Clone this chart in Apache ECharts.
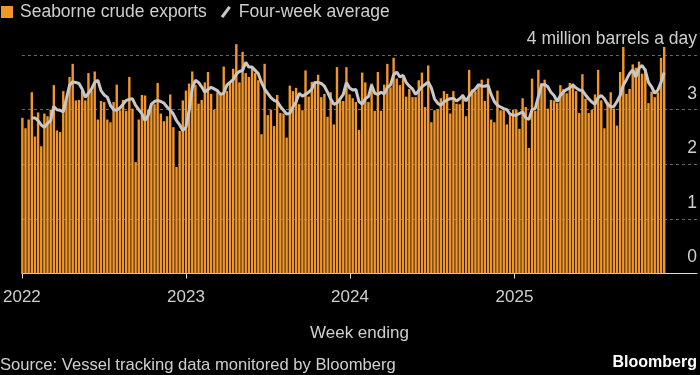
<!DOCTYPE html>
<html>
<head>
<meta charset="utf-8">
<script src="https://cdn.jsdelivr.net/npm/echarts@6/dist/echarts.min.js"></script>
<style>
  html, body { margin: 0; padding: 0; background: #000; }
  #chart { width: 700px; height: 375px; }
</style>
</head>
<body>
<div id="chart"></div>
<script>
// weekly seaborne crude exports, million barrels a day (week ending Sundays)
const firstWeek = '2022-01-02'
const exports2022 = [2.85, 2.66, 2.82, 3.32, 2.51, 2.95, 2.33, 2.93, 2.88, 3.0, 3.45, 2.62, 2.59, 3.34, 3.18, 3.6, 3.84, 3.17, 3.18, 3.35, 3.17, 3.67, 3.35, 3.7, 2.82, 3.16, 3.14, 2.82, 2.77, 3.14, 3.46, 2.99, 3.18, 2.98, 3.6, 3.02, 2.04, 2.82, 3.27, 3.26, 3.0, 3.08, 3.1, 3.49, 2.93, 2.79, 2.88, 3.28, 2.68, 1.95, 2.61, 3.17]
const exports2023 = [3.35, 3.48, 3.7, 3.45, 3.11, 3.18, 3.5, 3.69, 3.29, 3.0, 3.32, 3.28, 3.79, 3.34, 3.48, 3.75, 4.2, 3.5, 4.06, 3.67, 3.6, 3.78, 3.67, 3.54, 2.55, 3.84, 2.9, 3.0, 2.7, 3.27, 2.94, 2.93, 2.49, 3.44, 3.34, 3.4, 3.1, 2.99, 3.72, 3.24, 3.51, 3.52, 3.64, 3.23, 3.29, 2.87, 3.32, 2.73, 3.78, 3.17, 3.16, 3.78, 3.28]
const exports2024 = [3.21, 3.14, 2.63, 3.68, 3.5, 3.14, 3.48, 2.98, 3.69, 2.98, 3.46, 3.84, 3.41, 3.95, 3.57, 3.45, 3.58, 3.24, 3.38, 3.23, 3.23, 3.54, 3.68, 3.05, 3.81, 2.77, 2.99, 3.01, 3.21, 3.34, 3.29, 2.93, 3.34, 3.11, 3.1, 3.28, 2.88, 3.73, 3.37, 3.34, 3.45, 3.55, 3.16, 3.57, 2.82, 2.77, 3.35, 2.99, 2.99, 2.73, 2.9, 3.0]
const exports2025 = [3.0, 2.65, 3.21, 3.05, 2.3, 3.57, 2.98, 3.73, 3.49, 3.55, 3.02, 3.18, 3.17, 3.12, 3.45, 3.38, 3.3, 3.49, 3.48, 3.34, 2.94, 3.65, 3.2, 2.94, 3.0, 3.28, 3.73, 3.17, 2.66, 3.14, 3.32, 3.02, 2.71, 3.69, 4.15, 3.29, 3.38, 3.83, 3.77, 3.88, 3.66, 3.75, 3.12, 3.33, 3.23, 3.32, 3.95, 4.15]

// four-week average
const avg2022 = [null, null, null, 2.85, 2.85, 2.8, 2.72, 2.68, 2.75, 2.8, 3.06, 3.0, 2.99, 2.96, 3.2, 3.45, 3.51, 3.5, 3.48, 3.38, 3.23, 3.3, 3.38, 3.5, 3.54, 3.35, 3.27, 3.23, 3.08, 3.0, 2.99, 3.03, 3.1, 3.17, 3.19, 3.2, 3.08, 3.0, 2.93, 2.8, 2.9, 3.1, 3.15, 3.17, 3.15, 3.12, 3.05, 2.99, 2.92, 2.8, 2.72, 2.62]
const avg2023 = [2.68, 2.99, 3.4, 3.54, 3.5, 3.42, 3.32, 3.37, 3.41, 3.38, 3.35, 3.28, 3.3, 3.45, 3.5, 3.55, 3.65, 3.7, 3.72, 3.87, 3.78, 3.78, 3.72, 3.66, 3.5, 3.38, 3.3, 3.22, 3.17, 3.15, 3.06, 2.99, 2.92, 2.93, 3.05, 3.14, 3.3, 3.25, 3.28, 3.32, 3.38, 3.5, 3.5, 3.48, 3.43, 3.32, 3.2, 3.1, 3.12, 3.2, 3.28, 3.5, 3.4]
const avg2024 = [3.36, 3.37, 3.15, 3.1, 3.2, 3.24, 3.45, 3.3, 3.28, 3.32, 3.29, 3.41, 3.45, 3.64, 3.69, 3.6, 3.63, 3.5, 3.43, 3.38, 3.28, 3.35, 3.42, 3.46, 3.51, 3.4, 3.2, 3.12, 3.08, 3.14, 3.18, 3.2, 3.21, 3.16, 3.2, 3.26, 3.16, 3.25, 3.33, 3.38, 3.46, 3.43, 3.43, 3.45, 3.28, 3.15, 3.08, 3.05, 3.02, 3.0, 2.92, 2.9]
const avg2025 = [2.9, 2.93, 2.96, 2.85, 2.82, 3.0, 3.02, 3.24, 3.45, 3.46, 3.42, 3.32, 3.26, 3.15, 3.26, 3.33, 3.37, 3.4, 3.45, 3.4, 3.36, 3.35, 3.27, 3.2, 3.14, 3.1, 3.22, 3.26, 3.2, 3.1, 3.05, 3.06, 3.15, 3.26, 3.45, 3.55, 3.66, 3.73, 3.6, 3.76, 3.81, 3.72, 3.5, 3.42, 3.3, 3.36, 3.5, 3.68]

const yearTicks = ['2022-01-01', '2023-01-01', '2024-01-01', '2025-01-01']
const yTickLabels = { 0: '0', 1: '1', 2: '2', 3: '3', 4: '4 million barrels a day' }

const exportsAll = exports2022.concat(exports2023, exports2024, exports2025)
const avgAll = avg2022.concat(avg2023, avg2024, avg2025)

function toTime (s) {
  return new Date(s + 'T00:00:00').getTime()
}

function weekDate (i) {
  const d = new Date(firstWeek + 'T00:00:00')
  d.setDate(d.getDate() + 7 * i)
  return d.getTime()
}

const weeks = exportsAll.map((v, i) => weekDate(i))
const tickTimes = yearTicks.map(toTime)

const font = 'Liberation Sans'
const textColor = '#cfcfcf'

const chart = echarts.init(document.getElementById('chart'))
chart.setOption({
  backgroundColor: '#000',
  animation: false,
  textStyle: { fontFamily: font },
  legend: {
    left: 1,
    top: 3,
    padding: 0,
    itemWidth: 12,
    itemHeight: 12,
    itemGap: 14,
    textStyle: { color: textColor, fontSize: 17.5, fontFamily: font, padding: [0, 0, 0, 2] },
    data: [
      { name: 'Seaborne crude exports', icon: 'rect' },
      { name: 'Four-week average', icon: 'path://M0,12 L9,0 L12,2.2 L3,14.2 Z', itemStyle: { color: '#c8c8c8' } }
    ]
  },
  grid: { left: 17, right: 1, top: 0.5, bottom: 101.5 },
  xAxis: {
    type: 'value',
    min: toTime('2022-01-01'),
    max: toTime('2026-02-11'),
    name: 'Week ending',
    nameLocation: 'middle',
    nameGap: 51,
    nameTextStyle: { color: textColor, fontSize: 17, fontFamily: font },
    axisLine: { show: true, lineStyle: { color: '#dcdcdc', width: 1 } },
    axisTick: { show: true, length: 5, lineStyle: { color: '#dcdcdc' }, customValues: tickTimes },
    axisLabel: {
      color: textColor,
      fontSize: 17,
      fontFamily: font,
      margin: 15,
      customValues: tickTimes,
      formatter: v => String(new Date(v).getFullYear())
    },
    splitLine: { show: false }
  },
  yAxis: {
    type: 'value',
    position: 'right',
    min: 0,
    max: 5,
    interval: 1,
    axisLine: { show: false },
    axisTick: { show: false },
    axisLabel: {
      inside: true,
      margin: 0,
      color: textColor,
      fontSize: 17.5,
      fontFamily: font,
      verticalAlign: 'bottom',
      padding: [0, 0, 7, 0],
      showMaxLabel: false,
      formatter: v => yTickLabels[v] || ''
    },
    splitLine: {
      show: true,
      showMaxLine: false,
      lineStyle: { color: '#6a6a6a', type: [3, 3], width: 1 }
    }
  },
  series: [
    {
      name: 'Seaborne crude exports',
      type: 'bar',
      barWidth: 2.4,
      itemStyle: { color: '#f0962b' },
      data: weeks.map((t, i) => [t, exportsAll[i]])
    },
    {
      name: 'Four-week average',
      type: 'line',
      showSymbol: false,
      symbol: 'none',
      connectNulls: false,
      lineStyle: { color: '#c8c8c8', width: 3 },
      itemStyle: { color: '#c8c8c8' },
      data: weeks.map((t, i) => [t, avgAll[i]])
    }
  ],
  graphic: [
    {
      type: 'text',
      left: 0,
      top: 357,
      style: { text: 'Source: Vessel tracking data monitored by Bloomberg', fill: textColor, font: '16.6px "Liberation Sans"' }
    },
    {
      type: 'text',
      right: 3,
      top: 355,
      style: { text: 'Bloomberg', fill: '#ffffff', font: 'bold 16px "Liberation Sans"' }
    }
  ]
})
</script>
</body>
</html>
